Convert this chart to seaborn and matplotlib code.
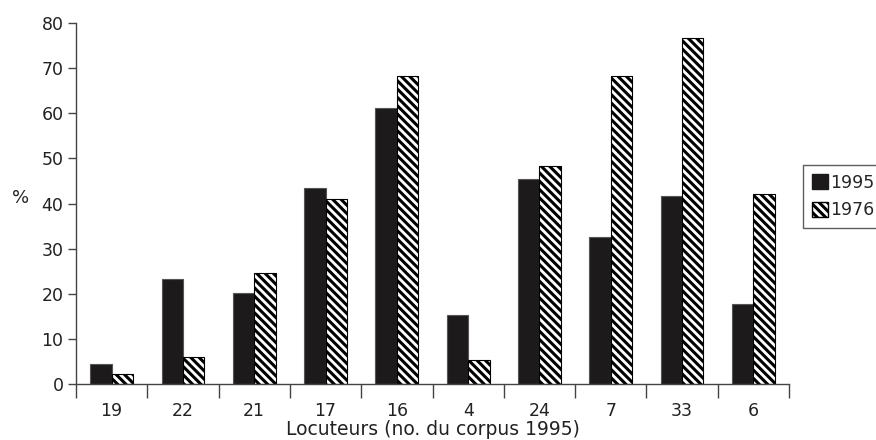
import matplotlib
matplotlib.use("Agg")
import matplotlib.pyplot as plt
import seaborn as sns
import pandas as pd
from matplotlib.patches import Patch
from matplotlib.ticker import FixedLocator

speakers = ["19", "22", "21", "17", "16", "4", "24", "7", "33", "6"]
values_1995 = [4.4, 23.3, 20.1, 43.5, 61.1, 15.4, 45.5, 32.6, 41.7, 17.8]
values_1976 = [2.2, 6.0, 24.5, 41.1, 68.3, 5.3, 48.4, 68.3, 76.6, 42.1]
years = ["1995", "1976"]
yticks = [0, 10, 20, 30, 40, 50, 60, 70, 80]

df = pd.DataFrame({
    "speaker": speakers * 2,
    "year": [years[0]] * len(speakers) + [years[1]] * len(speakers),
    "value": values_1995 + values_1976,
})

sns.set_style("white")
plt.rcParams["font.family"] = ["DejaVu Sans"]
plt.rcParams["hatch.linewidth"] = 2.2
plt.rcParams["hatch.color"] = "black"

HATCH = "\\\\\\\\"
fig = plt.figure(figsize=(8.76, 4.4), dpi=100)
ax = fig.add_axes([76 / 876, 1 - 384 / 440, (789 - 76) / 876, (384 - 23) / 440])

sns.barplot(data=df, x="speaker", y="value", hue="year", order=speakers,
            hue_order=years, palette={"1995": "#1c1a1b", "1976": "white"},
            width=0.6, gap=0, ax=ax, legend=False, saturation=1,
            edgecolor="#555555", linewidth=0.8)

for bar in ax.containers[1]:
    bar.set_hatch(HATCH)
    bar.set_edgecolor("black")

ax.set_ylim(0, 80)
ax.set_xlim(-0.5, len(speakers) - 0.5)
ax.set_yticks(yticks)
ax.set_yticklabels([str(t) for t in yticks], fontsize=12.5, color="#222222")
ax.tick_params(axis="y", direction="out", length=6, width=1, color="#444444", left=True, pad=3)
ax.set_xticks(range(len(speakers)))
ax.set_xticklabels(speakers, fontsize=12.5, color="#222222")
ax.tick_params(axis="x", which="major", length=0, pad=13)
ax.xaxis.set_minor_locator(FixedLocator([i - 0.5 for i in range(len(speakers) + 1)]))
ax.tick_params(axis="x", which="minor", direction="out", length=10, width=1, color="#444444", bottom=True)

for s in ["top", "right"]:
    ax.spines[s].set_visible(False)
for s in ["left", "bottom"]:
    ax.spines[s].set_color("#444444")
    ax.spines[s].set_linewidth(1)

ax.set_xlabel("Locuteurs (no. du corpus 1995)", fontsize=13.5, labelpad=0, color="#222222")
ax.set_ylabel("%", fontsize=13, rotation=0, color="#222222")
ax.yaxis.set_label_coords(-0.078, 0.49)

handles = [Patch(facecolor="#1c1a1b", edgecolor="#1c1a1b", label=years[0]),
           Patch(facecolor="white", edgecolor="black", hatch=HATCH, label=years[1])]
fig.legend(handles=handles, loc="upper left", bbox_to_anchor=(803 / 876, 1 - 165 / 440),
           fontsize=12.5, frameon=True, fancybox=False, edgecolor="#333333",
           handlelength=0.95, handleheight=0.95, handletextpad=0.1,
           borderpad=0.5, labelspacing=0.55, borderaxespad=0)

fig.savefig("out.png", dpi=100)
